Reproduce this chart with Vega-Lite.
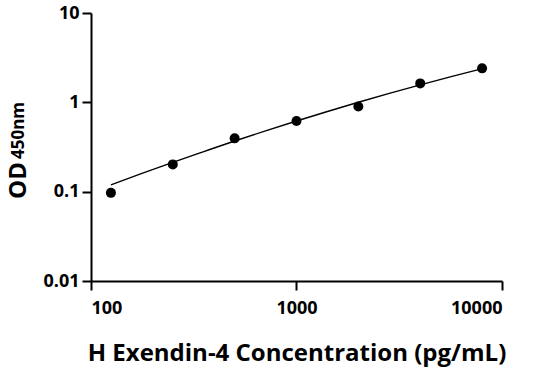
{
  "$schema": "https://vega.github.io/schema/vega-lite/v6.json",
  "width": 411,
  "height": 268,
  "autosize": "none",
  "padding": {"left": 91, "top": 13, "right": 34, "bottom": 90},
  "background": "white",
  "config": {
    "view": {"stroke": null},
    "font": "Open Sans",
    "axis": {
      "domainColor": "black",
      "domainWidth": 2,
      "tickColor": "black",
      "tickWidth": 2,
      "tickSize": 9,
      "grid": false,
      "labelColor": "black",
      "labelFont": "Open Sans",
      "labelFontWeight": "bold",
      "labelFontSize": 18,
      "titleColor": "black",
      "titleFont": "Open Sans",
      "titleFontWeight": "bold"
    }
  },
  "datasets": {
    "points": [
      {"conc": 125, "od": 0.097},
      {"conc": 250, "od": 0.202},
      {"conc": 500, "od": 0.395},
      {"conc": 1000, "od": 0.618},
      {"conc": 2000, "od": 0.9},
      {"conc": 4000, "od": 1.63},
      {"conc": 8000, "od": 2.4}
    ],
    "curve": [
      {"conc": 125, "od": 0.119},
      {"conc": 177, "od": 0.16},
      {"conc": 250, "od": 0.213},
      {"conc": 354, "od": 0.281},
      {"conc": 500, "od": 0.369},
      {"conc": 707, "od": 0.48},
      {"conc": 1000, "od": 0.618},
      {"conc": 1414, "od": 0.79},
      {"conc": 2000, "od": 1.001},
      {"conc": 2828, "od": 1.259},
      {"conc": 4000, "od": 1.569},
      {"conc": 5657, "od": 1.941},
      {"conc": 8000, "od": 2.38}
    ]
  },
  "layer": [
    {
      "data": {"name": "curve"},
      "mark": {"type": "line", "color": "black", "strokeWidth": 1.4, "interpolate": "monotone"},
      "encoding": {
        "x": {
          "field": "conc",
          "type": "quantitative",
          "scale": {"type": "log", "domain": [100, 10000]},
          "axis": {
            "values": [100, 1000, 10000],
            "format": "d",
            "labelPadding": 9,
            "title": "H Exendin-4 Concentration (pg/mL)",
            "titleFontSize": 24,
            "titleBaseline": "alphabetic",
            "titleY": 79
          }
        },
        "y": {
          "field": "od",
          "type": "quantitative",
          "scale": {"type": "log", "domain": [0.01, 10]},
          "axis": {
            "orient": "left",
            "domain": false,
            "ticks": false,
            "labels": false,
            "title": "450nm",
            "titleFontSize": 17,
            "titleAngle": 270,
            "titleAlign": "center",
            "titleBaseline": "alphabetic",
            "titleX": -68,
            "titleY": 117
          }
        }
      }
    },
    {
      "data": {"name": "points"},
      "mark": {"type": "circle", "size": 100, "color": "black", "opacity": 1},
      "encoding": {
        "x": {"field": "conc", "type": "quantitative"},
        "y": {
          "field": "od",
          "type": "quantitative",
          "axis": {
            "orient": "left",
            "values": [0.01, 0.1, 1, 10],
            "format": "~g",
            "labelPadding": 3,
            "title": "OD",
            "titleFontSize": 24,
            "titleAngle": 270,
            "titleAlign": "center",
            "titleBaseline": "alphabetic",
            "titleX": -66,
            "titleY": 167
          }
        }
      }
    }
  ],
  "resolve": {"axis": {"y": "independent"}}
}
